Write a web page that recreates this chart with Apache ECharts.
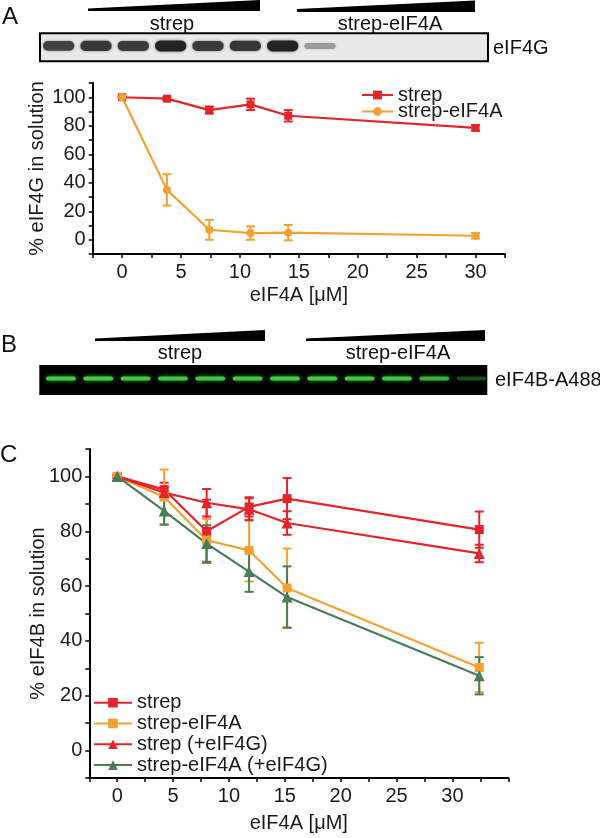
<!DOCTYPE html>
<html><head><meta charset="utf-8">
<script src="https://cdn.jsdelivr.net/npm/echarts@6/dist/echarts.min.js"></script>
<style>
html,body{margin:0;padding:0;background:#fff;}
#a{position:absolute;left:0;top:0;width:600px;height:320px;}
#c{position:absolute;left:0;top:320px;width:600px;height:518px;}
</style></head>
<body><div id="a"></div><div id="c"></div>
<script>
const FONT = '"Liberation Sans", Arial, Helvetica, sans-serif';
const RED = '#e4232a', ORANGE = '#f5a032', GREEN = '#4a7c5a';

// gel lanes & band intensities
const lanes = ['1','2','3','4','5','6','7','8','9','10','11','12'];
const gelA = [0.82, 0.88, 0.86, 1.0, 0.86, 0.88, 1.0, 0.28, 0, 0, 0, 0];
const gelB = [1, 1, 0.95, 0.95, 0.95, 0.95, 1, 1, 0.95, 0.95, 0.8, 0.35];

// tick labels
const xLabelsA = [0, 5, 10, 15, 20, 25, 30];
const xLabelsC = [0, 5, 10, 15, 20, 25, 30];
const yLabels = [0, 20, 40, 60, 80, 100];

// Panel A data
const aConc = [0, 3.8, 7.4, 10.9, 14.1, 30];
const aStrep = [100, 99, 91, 95, 87, 78.5];
const aStrepErr = [0.6, 1, 2.5, 4, 4, 2];
const aStrep4A = [100, 35, 7, 4.7, 5, 2.8];
const aStrep4AErr = [0.6, 11, 7, 4.7, 5.4, 2];

// Panel C data
const cConc = [0, 4.2, 8.0, 11.8, 15.2, 32.4];
const cStrep = [100, 95.2, 80, 88.9, 91.9, 80.6];
const cStrepErr = [0.5, 2.5, 11.5, 3.5, 7.5, 6.6];
const cStrep4A = [100, 92.5, 76.7, 73, 59.3, 30.3];
const cStrep4AErr = [0.5, 10, 7.8, 11.3, 14.4, 9];
const cStrepG = [100, 94.1, 90.4, 88, 83, 71.9];
const cStrepGErr = [0.5, 2, 5, 4, 4.3, 3.2];
const cStrep4AG = [100, 87.4, 75.5, 65.3, 56, 27.3];
const cStrep4AGErr = [0.5, 5, 6.7, 7.4, 11.2, 6.8];

function errData(xs, ys, es){ return xs.map((x,i)=>[x, ys[i]-es[i], ys[i]+es[i]]); }
function pairs(xs, ys){ return xs.map((x,i)=>[x, ys[i]]); }

function errSeries(name, xs, ys, es, color, cap, lw, grid){
  return {
    type:'custom', name:name, xAxisIndex:grid, yAxisIndex:grid,
    data: errData(xs, ys, es), encode:{x:0, y:[1,2]}, z:3,
    renderItem:function(params, api){
      const x = api.value(0);
      const p1 = api.coord([x, api.value(1)]), p2 = api.coord([x, api.value(2)]);
      const st = {stroke:color, lineWidth:lw};
      return {type:'group', children:[
        {type:'line', shape:{x1:p1[0],y1:p1[1],x2:p2[0],y2:p2[1]}, style:st},
        {type:'line', shape:{x1:p1[0]-cap,y1:p1[1],x2:p1[0]+cap,y2:p1[1]}, style:st},
        {type:'line', shape:{x1:p2[0]-cap,y1:p2[1],x2:p2[0]+cap,y2:p2[1]}, style:st}
      ]};
    }
  };
}
function lineSeries(name, xs, ys, color, symbol, size, grid){
  return {type:'line', name:name, xAxisIndex:grid, yAxisIndex:grid, data:pairs(xs, ys),
    symbol:symbol, symbolSize:size, showAllSymbol:true, z:4,
    lineStyle:{color:color, width:2.2}, itemStyle:{color:color, opacity:1}};
}
function gelSeries(vals, kind, grid){
  return {type:'custom', xAxisIndex:grid, yAxisIndex:grid, silent:true,
    data: vals.map((v,i)=>[i, v]),
    renderItem:function(params, api){
      const v = api.value(1);
      if (v <= 0) return null;
      const c = api.coord([api.value(0), 0.55]);
      const lw = api.size([1, 0])[0];
      if (kind === 'A') {
        const w = lw * 0.84, h = 4 + 7 * v;
        const g = Math.round(200 - 165 * v);
        return {type:'rect', shape:{x:c[0]-w/2, y:c[1]-h/2, width:w, height:h, r:h/2},
          style:{fill:'rgb('+g+','+g+','+g+')', shadowBlur:3, shadowColor:'rgba(0,0,0,'+(0.5*v)+')'}};
      } else {
        const w = lw * 0.8, h = 4;
        return {type:'rect', shape:{x:c[0]-w/2+3, y:c[1]-h/2, width:w, height:h, r:2},
          style:{fill:'rgba(72,200,72,'+v+')', shadowBlur:4, shadowColor:'rgba(40,180,40,'+v+')'}};
      }
    }};
}

function valueAxis(min, max, labels, grid, isX){
  return {
    type:'value', gridIndex:grid, min:min, max:max, interval: isX ? 2.5 : 10,
    nameMoveOverlap:false,
    axisLine:{show:true, onZero:false, lineStyle:{color:'#000', width:2}},
    axisTick:{show:true, length:4, lineStyle:{color:'#000', width:1.5}},
    splitLine:{show:false},
    axisLabel:{fontFamily:FONT, fontSize:20, color:'#1a1a1a', margin: isX ? 8 : 7,
      formatter:function(v){ return labels.indexOf(Math.round(v*1000)/1000) >= 0 ? String(v) : ''; },
      showMinLabel:true, showMaxLabel:true}
  };
}
function hiddenAxis(type, grid){
  const a = {type:type, gridIndex:grid, show:false};
  if (type === 'category') a.data = lanes; else { a.min = 0; a.max = 1; }
  return a;
}

const txt = (t, x, y, size, align) => ({type:'text', x:x, y:y,
  style:{text:t, font:size+'px '+FONT, fill:'#111', align:align||'center', verticalAlign:'middle'}});
const wedge = (pts) => ({type:'polygon', shape:{points:pts}, style:{fill:'#000'}});

// ---------- Instance 1: gel A + chart A ----------
const chA = echarts.init(document.getElementById('a'), null, {renderer:'canvas'});
const xA = valueAxis(-2.5, 32.5, xLabelsA, 1, true);
xA.name = 'eIF4A [μM]'; xA.nameLocation = 'middle'; xA.nameGap = 31;
xA.nameTextStyle = {fontFamily:FONT, fontSize:20, color:'#1a1a1a'};
const yA = valueAxis(-10, 110, yLabels, 1, false);
yA.name = '% eIF4G in solution'; yA.nameLocation = 'middle'; yA.nameGap = 45;
yA.nameTextStyle = {fontFamily:FONT, fontSize:20, color:'#1a1a1a'};
chA.setOption({
  animation:false,
  grid:[
    {left:40, top:33.3, width:448, height:28, show:true, backgroundColor:'#e9e9e9', borderColor:'#000', borderWidth:2},
    {left:92.7, top:83, width:412.3, height:171}
  ],
  xAxis:[hiddenAxis('category', 0), xA],
  yAxis:[hiddenAxis('value', 0), yA],
  legend:{orient:'vertical', left:356, top:80, itemWidth:31, itemHeight:11, itemGap:-3.5,
    data:['strep','strep-eIF4A'],
    textStyle:{fontFamily:FONT, fontSize:20, color:'#1a1a1a'}},
  series:[
    gelSeries(gelA, 'A', 0),
    errSeries('eA1', aConc, aStrep, aStrepErr, RED, 4.5, 2, 1),
    lineSeries('strep', aConc, aStrep, RED, 'rect', 8, 1),
    errSeries('eA2', aConc, aStrep4A, aStrep4AErr, ORANGE, 4.5, 2, 1),
    lineSeries('strep-eIF4A', aConc, aStrep4A, ORANGE, 'circle', 8, 1)
  ],
  graphic:[
    txt('A', 2, 17, 24, 'left'),
    wedge([[88,8.5],[260,0],[260,11],[88,11]]),
    wedge([[297,9],[475,0.5],[475,12],[297,12]]),
    txt('strep', 172, 24, 20),
    txt('strep-eIF4A', 390, 24, 20),
    txt('eIF4G', 493, 48, 20, 'left')
  ]
});

// ---------- Instance 2: gel B + chart C ----------
const chC = echarts.init(document.getElementById('c'), null, {renderer:'canvas'});
const xC = valueAxis(-2.5, 35, xLabelsC, 1, true);
xC.name = 'eIF4A [μM]'; xC.nameLocation = 'middle'; xC.nameGap = 35;
xC.nameTextStyle = {fontFamily:FONT, fontSize:20, color:'#1a1a1a'};
const yC = valueAxis(-10, 110, yLabels, 1, false);
yC.name = '% eIF4B in solution'; yC.nameLocation = 'middle'; yC.nameGap = 41;
yC.nameTextStyle = {fontFamily:FONT, fontSize:20, color:'#1a1a1a'};
chC.setOption({
  animation:false,
  grid:[
    {left:39.3, top:45, width:448, height:30, show:true, backgroundColor:'#000', borderColor:'#000', borderWidth:0},
    {left:89.3, top:129, width:419, height:333.7}
  ],
  xAxis:[hiddenAxis('category', 0), xC],
  yAxis:[hiddenAxis('value', 0), yC],
  legend:{orient:'vertical', left:88, top:367.7, itemWidth:38, itemHeight:12, itemGap:0.8,
    data:['strep','strep-eIF4A','strep (+eIF4G)','strep-eIF4A (+eIF4G)'],
    textStyle:{fontFamily:FONT, fontSize:20, color:'#1a1a1a', lineHeight:20}},
  series:[
    gelSeries(gelB, 'B', 0),
    errSeries('eC1', cConc, cStrep, cStrepErr, RED, 4.5, 2, 1),
    lineSeries('strep', cConc, cStrep, RED, 'rect', 9, 1),
    errSeries('eC2', cConc, cStrep4A, cStrep4AErr, ORANGE, 4.5, 2, 1),
    lineSeries('strep-eIF4A', cConc, cStrep4A, ORANGE, 'rect', 9, 1),
    errSeries('eC3', cConc, cStrepG, cStrepGErr, RED, 4.5, 2, 1),
    lineSeries('strep (+eIF4G)', cConc, cStrepG, RED, 'triangle', 11, 1),
    errSeries('eC4', cConc, cStrep4AG, cStrep4AGErr, GREEN, 4.5, 2, 1),
    lineSeries('strep-eIF4A (+eIF4G)', cConc, cStrep4AG, GREEN, 'triangle', 11, 1)
  ],
  graphic:[
    txt('B', 1, 25.5, 24, 'left'),
    wedge([[95,18.5],[265,10],[265,21],[95,21]]),
    wedge([[306,18.5],[485,10],[485,21],[306,21]]),
    txt('strep', 180, 33, 20),
    txt('strep-eIF4A', 398, 33, 20),
    txt('eIF4B-A488', 495, 60, 20, 'left'),
    txt('C', 0, 135, 24, 'left')
  ]
});
</script></body></html>
